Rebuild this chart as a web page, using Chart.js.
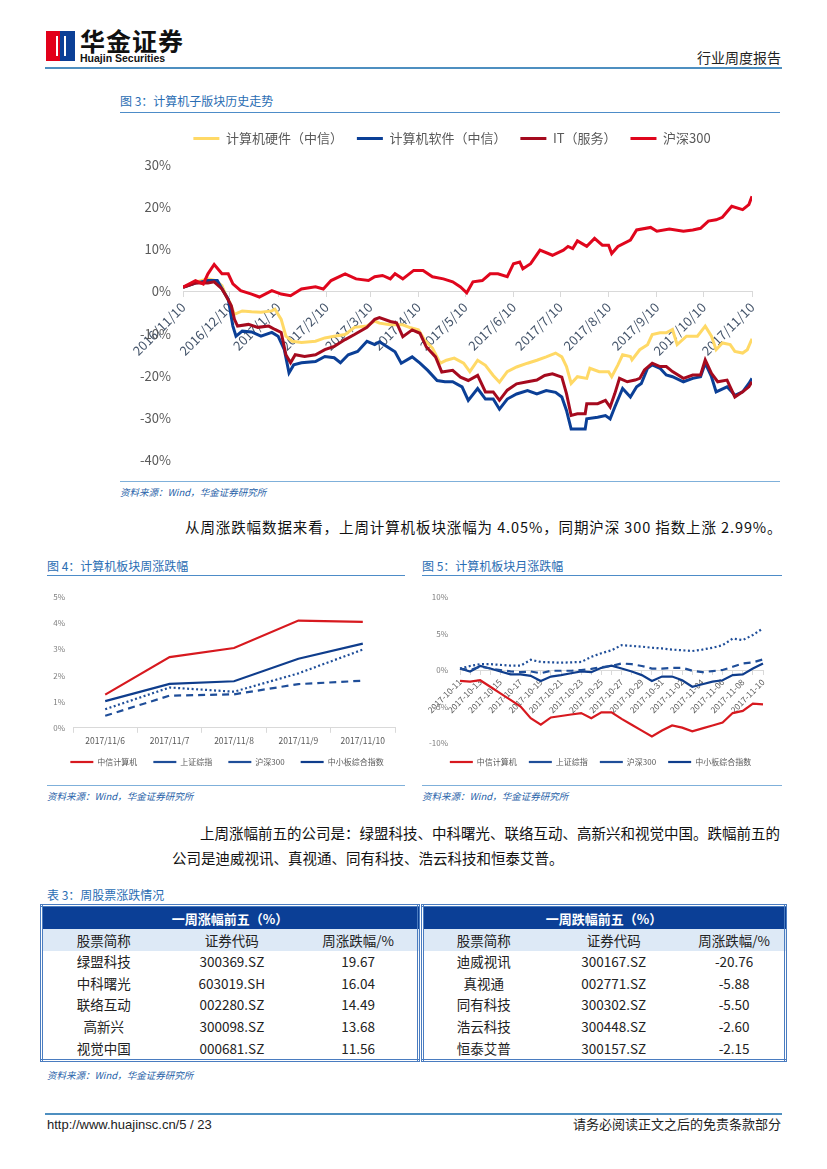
<!DOCTYPE html>
<html>
<head>
<meta charset="utf-8">
<script src="https://cdn.jsdelivr.net/npm/chart.js@4.4.0/dist/chart.umd.min.js"></script>
<style>
body{margin:0;width:827px;height:1169px;position:relative;background:#fff;font-family:"Noto Sans CJK SC","Noto Sans",sans-serif;color:#222;overflow:hidden;}
.abs{position:absolute;}
.cap{font-size:12px;color:#2a6db3;line-height:14px;}
.rule{height:0;border-top:1px solid #4d8cc8;}
.src{font-size:9.5px;color:#1f5fa8;font-style:italic;line-height:12px;}
.para{font-size:14.5px;color:#111;line-height:25px;white-space:nowrap;}
table{border-collapse:collapse;font-size:13.5px;color:#222;}
.tb{border:3px double #4a7cc0;}
.tb td{text-align:center;height:21.6px;padding:0;line-height:21px;}
.tb .hd td{background:#0b3f96;color:#fff;font-weight:bold;font-size:13px;height:22px;}
.tb .ch td{background:#dde9f6;height:22px;}
</style>
</head>
<body>
<!-- header -->
<div class="abs" style="left:46px;top:31px;width:14px;height:30px;background:#e2001a;"></div>
<div class="abs" style="left:60px;top:31px;width:15px;height:30px;background:#0b3f96;"></div>
<div class="abs" style="left:56px;top:36px;width:6px;height:20px;border-left:2px solid #fff;border-right:2px solid #fff;"></div>
<div class="abs" style="left:80px;top:26px;font-size:25px;font-weight:bold;letter-spacing:1px;color:#111;line-height:28px;">华金证券</div>
<div class="abs" style="left:80px;top:52px;font-size:10.5px;font-weight:bold;color:#111;line-height:12px;font-family:'Liberation Sans',sans-serif;">Huajin Securities</div>
<div class="abs" style="right:46px;top:49px;font-size:14px;color:#222;line-height:16px;">行业周度报告</div>
<div class="abs" style="left:45px;top:67px;width:737px;height:2px;background:#4e8fc0;"></div>

<!-- figure 3 -->
<div class="abs cap" style="left:120px;top:94px;">图 3：计算机子版块历史走势</div>
<div class="abs rule" style="left:120px;top:112px;width:660px;"></div>
<div class="abs" style="left:120px;top:118px;width:660px;height:362px;"><canvas id="fig3"></canvas></div>
<div class="abs rule" style="left:120px;top:481px;width:660px;border-color:#7fb0da;"></div>
<div class="abs src" style="left:120px;top:486px;">资料来源：Wind，华金证券研究所</div>

<div class="abs para" style="left:185px;top:514px;letter-spacing:0.9px;">从周涨跌幅数据来看，上周计算机板块涨幅为 4.05%，同期沪深 300 指数上涨 2.99%。</div>

<!-- figure 4 / 5 -->
<div class="abs cap" style="left:47px;top:559px;">图 4：计算机板块周涨跌幅</div>
<div class="abs rule" style="left:47px;top:575px;width:358px;"></div>
<div class="abs" style="left:47px;top:580px;width:358px;height:200px;"><canvas id="fig4"></canvas></div>
<div class="abs rule" style="left:47px;top:785px;width:358px;border-color:#7fb0da;"></div>
<div class="abs src" style="left:47px;top:790px;">资料来源：Wind，华金证券研究所</div>

<div class="abs cap" style="left:422px;top:559px;">图 5：计算机板块月涨跌幅</div>
<div class="abs rule" style="left:422px;top:575px;width:360px;"></div>
<div class="abs" style="left:422px;top:580px;width:360px;height:200px;"><canvas id="fig5"></canvas></div>
<div class="abs rule" style="left:422px;top:785px;width:360px;border-color:#7fb0da;"></div>
<div class="abs src" style="left:422px;top:790px;">资料来源：Wind，华金证券研究所</div>

<div class="abs para" style="left:200px;top:820px;">上周涨幅前五的公司是：绿盟科技、中科曙光、联络互动、高新兴和视觉中国。跌幅前五的</div>
<div class="abs para" style="left:172px;top:845px;">公司是迪威视讯、真视通、同有科技、浩云科技和恒泰艾普。</div>

<!-- table 3 -->
<div class="abs cap" style="left:47px;top:888px;">表 3：周股票涨跌情况</div>
<div class="abs" style="left:40px;top:904px;width:380px;">
<table class="tb" style="width:380px;">
<tr class="hd"><td colspan="3">一周涨幅前五（%）</td></tr>
<tr class="ch"><td style="width:32.6%">股票简称</td><td style="width:35.8%">证券代码</td><td>周涨跌幅/%</td></tr>
<tr><td>绿盟科技</td><td>300369.SZ</td><td>19.67</td></tr>
<tr><td>中科曙光</td><td>603019.SH</td><td>16.04</td></tr>
<tr><td>联络互动</td><td>002280.SZ</td><td>14.49</td></tr>
<tr><td>高新兴</td><td>300098.SZ</td><td>13.68</td></tr>
<tr><td>视觉中国</td><td>000681.SZ</td><td>11.56</td></tr>
</table></div>
<div class="abs" style="left:421px;top:904px;width:366px;">
<table class="tb" style="width:366px;">
<tr class="hd"><td colspan="3">一周跌幅前五（%）</td></tr>
<tr class="ch"><td style="width:33.3%">股票简称</td><td style="width:38.8%">证券代码</td><td>周涨跌幅/%</td></tr>
<tr><td>迪威视讯</td><td>300167.SZ</td><td>-20.76</td></tr>
<tr><td>真视通</td><td>002771.SZ</td><td>-5.88</td></tr>
<tr><td>同有科技</td><td>300302.SZ</td><td>-5.50</td></tr>
<tr><td>浩云科技</td><td>300448.SZ</td><td>-2.60</td></tr>
<tr><td>恒泰艾普</td><td>300157.SZ</td><td>-2.15</td></tr>
</table></div>
<div class="abs src" style="left:47px;top:1069px;">资料来源：Wind，华金证券研究所</div>

<!-- footer -->
<div class="abs" style="left:45px;top:1113px;width:737px;height:2px;background:#4e8fc0;"></div>
<div class="abs" style="left:47px;top:1117px;font-size:13px;line-height:15px;font-family:'Liberation Sans',sans-serif;color:#222;">http://www.huajinsc.cn/5 / 23</div>
<div class="abs" style="right:46px;top:1116px;font-size:13px;line-height:16px;color:#222;">请务必阅读正文之后的免责条款部分</div>

<script>
// fig 3: day offset from 2016/11/10, cumulative %
const monthTicks = [0, 30, 61, 92, 120, 151, 181, 212, 242, 273, 304, 334, 365];
const monthLabels = ['2016/11/10', '2016/12/10', '2017/1/10', '2017/2/10', '2017/3/10', '2017/4/10', '2017/5/10',
  '2017/6/10', '2017/7/10', '2017/8/10', '2017/9/10', '2017/10/10', '2017/11/10'];

const hwDays = [0, 8, 16, 21, 25, 28, 30, 33, 38, 44, 50, 57, 59, 63, 66, 70, 76, 85, 91, 97, 104, 110, 118, 123, 126, 133, 141, 146, 151, 155, 160, 165, 169, 174, 180, 184, 189, 194, 199, 203, 208, 214, 221, 227, 233, 239, 243, 246, 249, 253, 259, 261, 267, 273, 275, 279, 282, 287, 288, 293, 298, 301, 306, 310, 314, 317, 323, 330, 335, 339, 342, 346, 351, 354, 359, 362, 365];
const hwVals = [1.0, 2.2, 3.0, 2.6, 1.4, -1.3, -2.5, -5.4, -4.6, -4.8, -4.9, -4.6, -4.2, -6.6, -10.6, -11.8, -12.1, -11.8, -11.0, -10.6, -10.2, -8.5, -8.2, -7.0, -7.5, -7.9, -7.9, -8.6, -9.1, -11.5, -13.4, -17.0, -16.3, -15.8, -17.0, -19.0, -16.3, -17.5, -19.9, -21.5, -19.0, -17.9, -17.0, -16.3, -15.5, -14.6, -15.5, -17.8, -21.8, -20.2, -20.6, -18.2, -19.0, -19.0, -20.2, -17.4, -15.0, -15.4, -16.2, -13.8, -12.6, -10.2, -9.8, -9.8, -9.0, -12.6, -10.6, -10.6, -8.2, -10.6, -13.8, -12.2, -12.6, -14.2, -14.6, -13.8, -11.2];

const swDays = [0, 8, 16, 22, 26, 29, 32, 34, 38, 44, 50, 57, 61, 65, 68, 71, 76, 85, 91, 97, 101, 106, 112, 118, 123, 126, 131, 136, 140, 147, 152, 157, 163, 168, 173, 179, 183, 189, 194, 199, 203, 208, 214, 221, 227, 233, 239, 243, 246, 249, 253, 258, 259, 266, 271, 274, 277, 282, 287, 291, 294, 298, 301, 306, 310, 314, 321, 327, 332, 335, 339, 342, 349, 354, 359, 363, 365];
const swVals = [1.0, 2.0, 2.6, 2.6, 0.0, -1.8, -8.2, -10.6, -9.4, -9.6, -10.6, -9.7, -10.6, -13.8, -19.3, -17.4, -16.9, -16.6, -15.4, -15.7, -16.9, -15.0, -14.2, -11.8, -12.6, -11.9, -13.1, -14.3, -17.0, -15.5, -17.0, -18.7, -21.1, -21.4, -21.4, -22.6, -25.8, -23.0, -25.5, -25.5, -27.9, -25.5, -24.3, -23.5, -24.3, -23.5, -23.9, -25.0, -28.2, -32.6, -32.6, -32.6, -30.2, -29.8, -29.4, -30.2, -27.4, -23.0, -25.0, -22.6, -21.8, -18.2, -17.4, -18.2, -19.8, -20.2, -21.4, -20.6, -20.2, -17.0, -20.2, -23.8, -22.6, -24.6, -23.8, -21.8, -20.6];

const itDays = [0, 8, 16, 20, 25, 28, 31, 33, 35, 42, 48, 55, 59, 63, 66, 69, 72, 78, 85, 91, 97, 104, 110, 118, 123, 126, 133, 137, 141, 147, 152, 156, 162, 166, 173, 178, 183, 189, 194, 199, 203, 208, 214, 221, 227, 232, 237, 243, 246, 249, 253, 258, 259, 266, 271, 274, 277, 280, 285, 290, 293, 296, 301, 306, 310, 314, 321, 327, 332, 335, 339, 343, 349, 354, 359, 363, 365];
const itVals = [1.0, 2.0, 2.0, 2.3, 0.6, -1.3, -3.4, -6.6, -8.2, -7.8, -8.5, -8.2, -9.0, -9.7, -15.0, -16.9, -15.0, -15.4, -15.0, -13.8, -13.0, -11.4, -10.2, -8.5, -6.6, -6.2, -7.1, -7.4, -10.7, -9.1, -9.9, -13.1, -15.5, -19.1, -18.7, -20.3, -21.1, -19.9, -23.8, -23.8, -25.8, -23.4, -21.9, -21.4, -21.0, -19.9, -19.5, -20.3, -24.2, -29.4, -29.0, -29.0, -26.6, -26.6, -25.8, -27.4, -24.2, -20.6, -21.4, -21.0, -20.6, -18.6, -17.0, -17.8, -17.8, -19.0, -20.6, -19.8, -19.8, -16.2, -19.4, -21.4, -21.0, -25.0, -23.8, -22.6, -21.4];

const hsDays = [0, 8, 13, 16, 20, 25, 29, 32, 37, 44, 49, 57, 63, 69, 76, 85, 90, 95, 104, 111, 119, 123, 128, 133, 136, 141, 148, 154, 160, 167, 173, 178, 182, 186, 192, 197, 202, 208, 212, 216, 218, 223, 229, 237, 244, 247, 250, 253, 259, 264, 269, 273, 275, 279, 287, 291, 300, 304, 312, 321, 327, 332, 337, 342, 346, 352, 359, 363, 365];
const hsVals = [1.0, 2.6, 1.8, 4.2, 6.4, 4.2, 4.2, 1.8, 0.2, -0.6, -1.3, 0.2, -0.6, -1.0, 0.6, 1.1, 0.6, 2.6, 4.2, 3.0, 2.6, 3.5, 3.8, 3.0, 4.2, 3.0, 5.0, 5.0, 3.5, 3.0, 2.3, 1.1, -0.3, 2.3, 2.6, 4.2, 4.2, 3.5, 6.6, 7.0, 5.4, 6.6, 9.8, 8.6, 9.8, 10.7, 10.2, 12.0, 10.7, 12.6, 11.0, 11.0, 9.0, 10.7, 12.2, 14.6, 15.2, 14.3, 14.8, 14.3, 14.6, 15.0, 16.7, 17.0, 17.6, 20.2, 19.4, 20.6, 22.6];

// fig 4: weekly
const weekDates = ['2017/11/6', '2017/11/7', '2017/11/8', '2017/11/9', '2017/11/10'];
const wkCitic = [1.27, 2.70, 3.05, 4.10, 4.05];
const wkSse = [0.46, 1.23, 1.28, 1.67, 1.80];
const wkHs300 = [0.71, 1.54, 1.38, 2.08, 2.99];
const wkSme = [1.02, 1.68, 1.78, 2.64, 3.22];

// fig 5: monthly
const monDates = ['2017-10-11', '2017-10-12', '2017-10-13', '2017-10-14', '2017-10-15', '2017-10-16', '2017-10-17', '2017-10-18',
  '2017-10-19', '2017-10-20', '2017-10-21', '2017-10-22', '2017-10-23', '2017-10-24', '2017-10-25', '2017-10-26', '2017-10-27',
  '2017-10-28', '2017-10-29', '2017-10-30', '2017-10-31', '2017-11-01', '2017-11-02', '2017-11-03', '2017-11-04', '2017-11-05',
  '2017-11-06', '2017-11-07', '2017-11-08', '2017-11-09', '2017-11-10'];
const monCitic = [-1.5, -1.6, -1.4, -2.3, -3.2, -4.1, -5.0, -6.6, -7.5, -6.5, -6.3, -6.1, -5.9, -6.6, -5.8, -5.8, -6.7, -7.5, -8.3, -9.1, -8.3, -7.6, -7.9, -8.4, -8.0, -7.6, -7.2, -5.9, -5.6, -4.6, -4.7];
const monSse = [0.2, 0.0, 0.45, 0.2, 0.0, -0.2, -0.3, -0.2, -0.45, -0.1, -0.1, -0.1, 0.0, 0.15, 0.4, 0.55, 0.9, 0.8, 0.55, 0.2, 0.2, 0.3, 0.3, -0.1, -0.3, -0.15, 0.0, 0.45, 0.9, 1.05, 1.45];
const monHs300 = [0.2, 0.55, 0.8, 0.8, 0.7, 0.6, 0.6, 1.4, 1.1, 1.05, 1.0, 1.05, 1.1, 1.8, 2.3, 2.7, 3.4, 3.3, 3.2, 3.05, 2.95, 2.8, 2.7, 2.6, 2.8, 3.05, 3.4, 4.3, 4.1, 4.8, 5.7];
const monSme = [0.2, -0.2, 0.55, 0.2, -0.2, -0.6, -0.6, -0.8, -1.5, -0.9, -0.7, -0.45, -0.2, -0.3, 0.3, 0.6, 0.2, -0.2, -0.7, -1.5, -0.9, -0.9, -1.4, -2.3, -1.95, -1.6, -1.4, -0.7, -0.6, 0.2, 0.9];

const toXY = (xs, ys) => xs.map((x, i) => ({x: x, y: ys[i]}));
Chart.defaults.font.family = '"Noto Sans CJK SC", "Noto Sans", sans-serif';
Chart.defaults.animation = false;
Chart.defaults.maintainAspectRatio = false;
Chart.defaults.elements.point.radius = 0;
Chart.defaults.elements.line.tension = 0;
Chart.defaults.plugins.tooltip.enabled = false;
const byIndex = (a, b) => a.datasetIndex - b.datasetIndex;

// grow/shrink the legend box (dh) and nudge where it is drawn (dx, dy)
const legendTweak = (dh, dx, dy) => ({
  id: 'legendTweak',
  beforeInit(chart) {
    const fit = chart.legend.fit;
    chart.legend.fit = function() { fit.call(this); this.height += dh; };
  },
  afterLayout(chart) {
    const l = chart.legend;
    l.left += dx; l.right += dx; l.top += dy; l.bottom += dy;
  }
});

new Chart(document.getElementById('fig3'), {
  type: 'line',
  plugins: [legendTweak(10, 16, 0)],
  data: {
    datasets: [
      {label: '计算机硬件（中信）', data: toXY(hwDays, hwVals), borderColor: '#ffd966', backgroundColor: '#ffd966', borderWidth: 3, order: 4},
      {label: '计算机软件（中信）', data: toXY(swDays, swVals), borderColor: '#0b3f96', backgroundColor: '#0b3f96', borderWidth: 3, order: 3},
      {label: 'IT（服务）', data: toXY(itDays, itVals), borderColor: '#a50a1e', backgroundColor: '#a50a1e', borderWidth: 3, order: 2},
      {label: '沪深300', data: toXY(hsDays, hsVals), borderColor: '#e0061d', backgroundColor: '#e0061d', borderWidth: 3, order: 1}
    ]
  },
  options: {
    layout: {padding: {left: 0, right: 28, top: 0, bottom: 12}},
    plugins: {
      legend: {
        position: 'top',
        labels: {usePointStyle: true, pointStyle: 'line', pointStyleWidth: 26, color: '#595959', font: {size: 13}, padding: 14, sort: byIndex}
      }
    },
    scales: {
      x: {
        type: 'linear', min: 0, max: 365, position: {y: 0},
        afterBuildTicks: axis => { axis.ticks = monthTicks.map(v => ({value: v})); },
        ticks: {autoSkip: false, minRotation: 45, maxRotation: 45, color: '#44546a', font: {size: 13},
          callback: v => monthLabels[monthTicks.indexOf(v)]},
        grid: {drawOnChartArea: false, tickLength: 5, color: '#d9d9d9'},
        border: {color: '#d9d9d9'}
      },
      y: {
        min: -40, max: 30,
        ticks: {stepSize: 10, color: '#595959', font: {size: 13}, padding: 12, callback: v => v + '%'},
        grid: {display: false, drawTicks: false}, border: {display: false},
        afterFit: s => { s.width = 63; }
      }
    }
  }
});

new Chart(document.getElementById('fig4'), {
  type: 'line',
  plugins: [legendTweak(-7, 6, -7)],
  data: {
    labels: weekDates,
    datasets: [
      {label: '中信计算机', data: wkCitic, borderColor: '#d7191f', backgroundColor: '#d7191f', borderWidth: 2.2},
      {label: '上证综指', data: wkSse, borderColor: '#1f4e99', backgroundColor: '#1f4e99', borderWidth: 2.2, borderDash: [7, 5]},
      {label: '沪深300', data: wkHs300, borderColor: '#1f4e99', backgroundColor: '#1f4e99', borderWidth: 2.2, borderDash: [2, 2.5]},
      {label: '中小板综合指数', data: wkSme, borderColor: '#0f3d8c', backgroundColor: '#0f3d8c', borderWidth: 2.2}
    ]
  },
  options: {
    layout: {padding: {left: 0, right: 10, top: 17, bottom: 4}},
    plugins: {
      legend: {position: 'bottom', labels: {usePointStyle: true, pointStyle: 'line', pointStyleWidth: 23, color: '#595959', font: {size: 8}, padding: 16}}
    },
    scales: {
      x: {
        offset: true,
        ticks: {maxRotation: 0, color: '#595959', font: {size: 8.5}},
        grid: {drawOnChartArea: false, offset: true, tickLength: 5, color: '#d9d9d9'},
        border: {color: '#d9d9d9'}
      },
      y: {
        min: 0, max: 5,
        ticks: {stepSize: 1, color: '#7f7f7f', font: {size: 8}, padding: 8, callback: v => v + '%'},
        grid: {display: false, drawTicks: false}, border: {display: false},
        afterFit: s => { s.width = 26; }
      }
    }
  }
});

new Chart(document.getElementById('fig5'), {
  type: 'line',
  plugins: [legendTweak(3, 8, 3)],
  data: {
    labels: monDates,
    datasets: [
      {label: '中信计算机', data: monCitic, borderColor: '#d7191f', backgroundColor: '#d7191f', borderWidth: 2.2},
      {label: '上证综指', data: monSse, borderColor: '#1f4e99', backgroundColor: '#1f4e99', borderWidth: 2.2, borderDash: [7, 5]},
      {label: '沪深300', data: monHs300, borderColor: '#1f4e99', backgroundColor: '#1f4e99', borderWidth: 2.2, borderDash: [2, 2.5]},
      {label: '中小板综合指数', data: monSme, borderColor: '#0f3d8c', backgroundColor: '#0f3d8c', borderWidth: 2.2}
    ]
  },
  options: {
    layout: {padding: {left: 0, right: 19, top: 17, bottom: 4}},
    plugins: {
      legend: {position: 'bottom', labels: {usePointStyle: true, pointStyle: 'line', pointStyleWidth: 23, color: '#595959', font: {size: 8}, padding: 12}}
    },
    scales: {
      x: {
        position: {y: 0},
        ticks: {autoSkip: false, minRotation: 45, maxRotation: 45, color: '#595959', font: {size: 8.5},
          callback: function(v, i) { return i % 2 === 0 ? this.getLabelForValue(v) : ''; }},
        grid: {drawOnChartArea: false, tickLength: 4, color: '#d9d9d9'},
        border: {color: '#d9d9d9'}
      },
      y: {
        min: -10, max: 10,
        ticks: {stepSize: 5, color: '#7f7f7f', font: {size: 8}, padding: 12, callback: v => v + '%'},
        grid: {display: false, drawTicks: false}, border: {display: false},
        afterFit: s => { s.width = 38; }
      }
    }
  }
});
</script>
</body>
</html>
